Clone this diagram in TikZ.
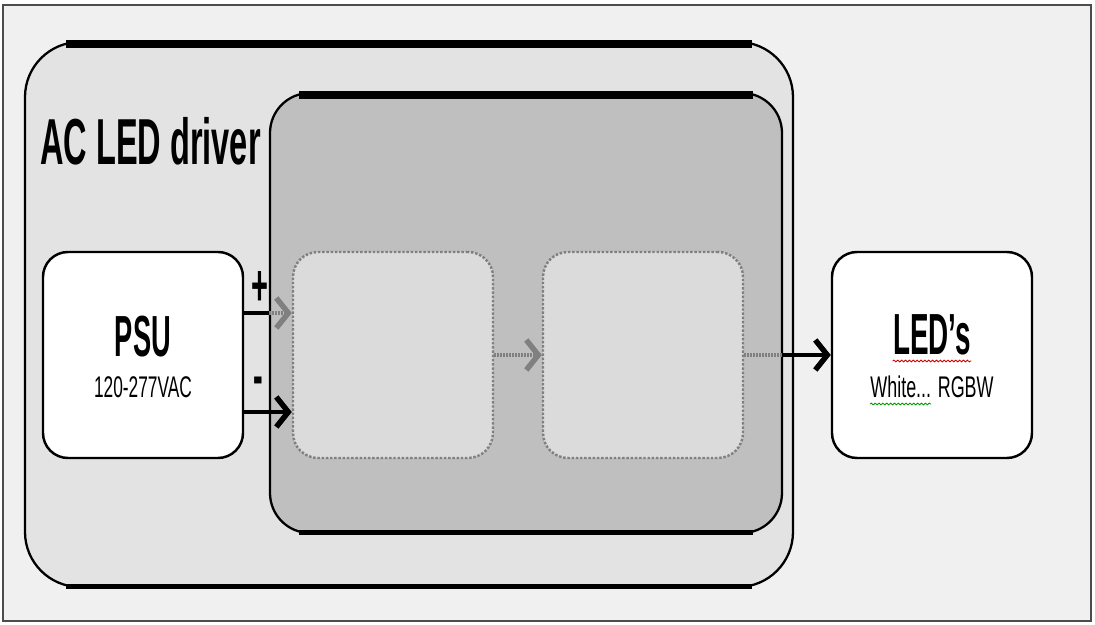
\documentclass[tikz,border=0pt]{standalone}
\usepackage{fontspec,graphicx}
\setmainfont{Liberation Sans}
\usetikzlibrary{arrows.meta,decorations.pathmorphing}
\newcommand{\narrowtxt}[2]{\scalebox{#1}[1]{#2}}

\begin{document}
\begin{tikzpicture}[>={Straight Barb[length=2.4mm,width=6mm,line width=0pt 1.1]},
	block/.style={draw=black,line width=1.4pt,fill=white,rounded corners=0.5cm,minimum width=4cm,minimum height=4.12cm},
	stage/.style={draw=black!50,densely dotted,line width=1.4pt,fill=black!14,rounded corners=0.5cm,minimum width=4cm,minimum height=4.12cm},
	wire/.style={line width=2.8pt},
	faintwire/.style={line width=2.8pt,black!50,dash pattern=on 1.2pt off 0.5pt},
	bigtxt/.style={inner sep=0pt,anchor=base,font=\fontsize{33}{36}\selectfont\bfseries},
	smalltxt/.style={inner sep=0pt,anchor=base,font=\fontsize{17}{18}\selectfont},
	squiggle/.style={line width=0.5pt,decorate,decoration={snake,amplitude=0.5pt,segment length=2.2pt}}]
			\useasboundingbox (0,0) rectangle (21.9,12.5);
			\draw[black!70,line width=0.8pt,fill=black!6] (0.06,0.08) rectangle (21.82,12.4);

			% driver housing and core
			\node[draw=black,line width=1.3pt,fill=black!11,rounded corners=1.1cm,minimum width=15.36cm,minimum height=10.9cm] (driver) at (8.18,6.21) {};
			\draw[line width=4.5pt] ([xshift=0.85cm,yshift=-0.07cm]driver.north west) -- ([xshift=-0.85cm,yshift=-0.07cm]driver.north east);
			\draw[line width=3pt] ([xshift=0.85cm,yshift=0.04cm]driver.south west) -- ([xshift=-0.85cm,yshift=0.04cm]driver.south east);
			\node[bigtxt,anchor=base west,font=\fontsize{37}{40}\selectfont\bfseries] (drivername) at (0.8,9.2) {\narrowtxt{0.5}{AC LED driver}};

			\node[draw=black,line width=1.3pt,fill=black!25,rounded corners=0.8cm,minimum width=10.24cm,minimum height=8.8cm] (core) at (10.52,6.24) {};
			\draw[line width=4.5pt] ([xshift=0.6cm,yshift=-0.07cm]core.north west) -- ([xshift=-0.6cm,yshift=-0.07cm]core.north east);
			\draw[line width=3pt] ([xshift=0.6cm,yshift=0.04cm]core.south west) -- ([xshift=-0.6cm,yshift=0.04cm]core.south east);

			% blocks
			\node[block] (psu) at (2.86,5.40) {};
			\node[bigtxt] (psuname) at ([yshift=-0.04cm]psu.center) {\narrowtxt{0.47}{PSU}};
			\node[smalltxt] (psurange) at ([yshift=-0.86cm]psu.center) {\narrowtxt{0.58}{120-277VAC}};

			\node[stage] (stagea) at (7.86,5.40) {};
			\node[stage] (stageb) at (12.86,5.40) {};

			\node[block] (leds) at (18.64,5.40) {};
			\node[bigtxt] (ledsname) at (leds.center) {\narrowtxt{0.48}{LED’s}};
			\node[smalltxt] (ledstype) at ([yshift=-0.86cm]leds.center) {\narrowtxt{0.6}{White... RGBW}};
			\draw[squiggle,red!80!black] ([yshift=-0.12cm]ledsname.base west) -- ([yshift=-0.12cm]ledsname.base east);
			\draw[squiggle,green!60!black] ([yshift=-0.12cm]ledstype.base west) -- ++(1.22,0);

			% connections
			\coordinate (plusout) at ([yshift=0.84cm]psu.east);
			\coordinate (minusout) at ([yshift=-1.14cm]psu.east);
			\draw[wire] (plusout) -- (plusout -| core.west);
			\draw[faintwire,->] (plusout -| core.west) -- (plusout -| stagea.west);
			\draw[wire,->] (minusout) -- (minusout -| stagea.west);
			\node[bigtxt] (plus) at (5.2,6.38) {\narrowtxt{0.5}{+}};
			\node[bigtxt] (minus) at (5.16,4.58) {\narrowtxt{0.5}{-}};

			\draw[faintwire,->] (stagea.east) -- (stageb.west);
			\draw[faintwire] (stageb.east) -- (stageb.east -| core.east);
			\draw[wire,->] (stageb.east -| core.east) -- (leds.west);
		\end{tikzpicture}
\end{document}
